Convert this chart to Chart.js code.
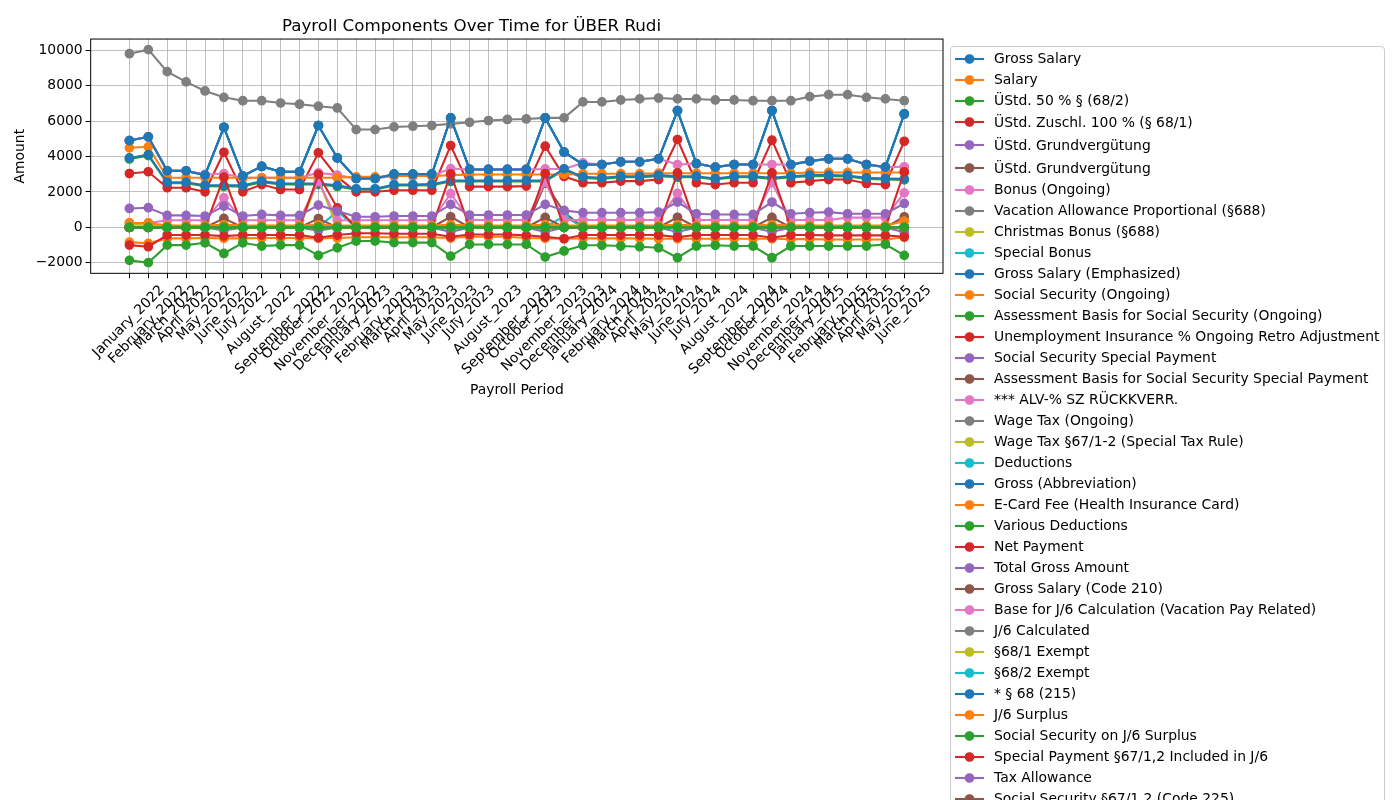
<!DOCTYPE html>
<html><head><meta charset="utf-8">
<script src="https://cdn.jsdelivr.net/npm/chart.js@4.4.1/dist/chart.umd.min.js"></script>
<style>
html,body{margin:0;padding:0;width:1400px;height:800px;overflow:hidden;background:#fff;font-family:'DejaVu Sans',sans-serif;}
#wrap{position:absolute;left:0;top:0;width:1400px;height:800px;}
#legend{position:absolute;left:950px;top:46px;width:435px;height:820px;border:1px solid #cccccc;border-radius:4px;background:rgba(255,255,255,0.8);box-sizing:border-box;padding-top:1px;}
.row{position:relative;font-size:13.9px;white-space:nowrap;color:#000;}
.row svg{position:absolute;left:4px;}
.row span{position:absolute;left:43px;top:0;}
</style></head>
<body>
<div id="wrap"><canvas id="c" width="1400" height="800"></canvas><div id="legend"></div></div>
<script>
const months = ['January_2022','February_2022','March_2022','April_2022','May_2022','June_2022','July_2022','August_2022','September_2022','October_2022','November_2022','December_2022','January_2023','February_2023','March_2023','April_2023','May_2023','June_2023','July_2023','August_2023','September_2023','October_2023','November_2023','December_2023','January_2024','February_2024','March_2024','April_2024','May_2024','June_2024','July_2024','August_2024','September_2024','October_2024','November_2024','December_2024','January_2025','February_2025','March_2025','April_2025','May_2025','June_2025'];

const grossSalary = [4900,5110,3190,3190,2950,5650,2900,3440,3140,3140,5750,3920,2760,2760,3000,3000,3000,6180,3270,3270,3270,3270,6180,4250,3550,3550,3700,3700,3870,6590,3600,3400,3550,3550,6590,3550,3740,3870,3870,3550,3400,6400];
const salary = [4490,4550,2800,2800,2800,2800,2800,2800,2800,2800,2800,2800,2850,2850,2900,2900,2900,2950,2990,2990,2990,2990,2990,2990,3030,3030,3030,3030,3060,3060,3060,3060,3060,3060,3060,3060,3100,3100,3100,3100,3100,3100];
const baseJ6 = [4900,5110,3190,3190,2990,3030,2800,2800,2800,2800,3080,2950,2760,2760,2900,2900,2900,3320,3270,3270,3270,3270,3300,3300,3640,3550,3700,3700,3870,3550,3600,3400,3550,3550,3550,3550,3740,3870,3870,3550,3400,3420];
const grossAbbrev = [3920,4110,2550,2550,2380,2370,2370,2610,2480,2480,2480,2370,2180,2180,2420,2420,2440,2650,2650,2650,2650,2650,2650,3300,2850,2800,2890,2890,2950,2890,2890,2760,2890,2890,2800,2890,2950,2950,2930,2800,2760,2740];
const assessmentBasis = [3860,4050,2490,2490,2320,2310,2310,2550,2420,2420,2420,2310,2120,2120,2360,2360,2380,2590,2590,2590,2590,2590,2590,3240,2790,2740,2830,2830,2890,2830,2830,2700,2830,2830,2740,2830,2890,2890,2870,2740,2700,2680];
const netPayment = [3040,3140,2240,2240,2010,4240,2010,2420,2140,2140,4210,2850,2010,2010,2100,2100,2100,4620,2300,2300,2300,2330,4580,2870,2520,2520,2610,2610,2700,4960,2520,2420,2520,2520,4920,2520,2610,2700,2700,2480,2420,4860];
const specialPaymentJ6 = [0,0,0,0,0,2840,0,0,0,0,2990,1100,0,0,0,0,0,3020,0,0,0,0,3040,0,0,0,0,0,0,3080,0,0,0,0,3080,0,0,0,0,0,0,3140];
const bonusOngoing = [250,250,400,400,400,1670,400,400,400,400,2600,400,400,400,400,400,400,1900,420,420,420,420,2550,420,420,420,420,420,420,1920,420,420,420,420,2520,420,420,420,550,550,550,1950];
const christmasBonus = [0,0,0,0,0,0,0,0,0,0,2700,0,0,0,0,0,0,0,0,0,0,0,0,0,0,0,0,0,0,0,0,0,0,0,0,0,0,0,0,0,0,0];
const specialBonus = [0,0,0,0,0,0,0,0,0,0,0,900,0,0,0,0,0,0,0,0,0,0,0,650,0,0,0,0,0,0,0,0,0,0,0,0,0,0,0,0,0,0];
const grossCode210 = [0,0,0,0,0,0,0,0,0,0,0,0,0,0,0,0,0,0,0,0,0,0,2500,850,0,0,0,0,0,0,0,0,0,0,0,0,0,0,0,0,0,0];
const ssSpecialPayment = [0,0,0,0,0,-170,0,0,0,0,-180,0,0,0,0,0,0,-250,0,0,0,0,-250,0,0,0,0,0,0,-260,0,0,0,0,-260,0,0,0,0,0,0,-270];
const ssCode225 = [0,0,0,0,0,510,0,0,0,0,500,0,0,0,0,0,0,600,0,0,0,0,560,0,0,0,0,0,0,570,0,0,0,0,560,0,0,0,0,0,0,600];
const taxAllowance = [1070,1110,680,680,640,1200,640,730,680,680,1260,920,600,600,640,640,640,1300,700,700,700,700,1300,960,830,830,830,830,860,1430,770,730,730,730,1430,770,830,860,770,770,770,1350];
const socialSecurity = [-830,-900,-620,-620,-600,-620,-620,-600,-600,-600,-620,-600,-560,-560,-560,-560,-560,-600,-530,-530,-530,-600,-620,-640,-620,-620,-620,-620,-640,-640,-640,-640,-640,-640,-640,-660,-660,-680,-680,-680,-680,-560];
const unemploymentRetro = [-1000,-1090,-430,-430,-430,-490,-430,-430,-430,-430,-580,-430,-330,-330,-360,-360,-360,-530,-400,-400,-400,-450,-530,-640,-430,-430,-430,-430,-430,-550,-430,-430,-430,-430,-580,-430,-430,-450,-450,-450,-450,-530];
const eCardFee = [250,250,100,100,100,150,100,100,100,100,150,100,100,100,100,100,100,150,100,100,100,100,150,100,100,100,100,100,100,150,100,100,100,100,150,100,100,100,100,100,100,350];
const exempt681 = [150,150,0,0,0,0,0,0,0,0,0,0,0,0,0,0,0,0,0,0,0,0,0,0,0,0,0,0,0,0,0,0,0,0,0,0,0,0,0,0,0,0];
const variousDeductions = [-1860,-1990,-1000,-1000,-870,-1470,-870,-1050,-1000,-1000,-1580,-1150,-770,-770,-860,-860,-860,-1620,-960,-960,-960,-960,-1670,-1330,-1010,-1010,-1050,-1090,-1150,-1710,-1050,-1010,-1050,-1050,-1710,-1050,-1050,-1050,-1050,-1050,-960,-1580];
const j6Calculated = [9800,10030,8790,8210,7700,7340,7150,7150,7020,6950,6840,6740,5520,5520,5670,5710,5750,5840,5930,6030,6090,6120,6180,6180,7080,7080,7190,7250,7300,7250,7250,7190,7190,7150,7150,7150,7380,7490,7490,7340,7250,7150];
const zeroValues = [0,0,0,0,0,0,0,0,0,0,0,0,0,0,0,0,0,0,0,0,0,0,0,0,0,0,0,0,0,0,0,0,0,0,0,0,0,0,0,0,0,0];
const yTicks = [-2000,0,2000,4000,6000,8000,10000];

const seriesNames = ['Gross Salary','Salary','ÜStd. 50 %  § (68/2)','ÜStd. Zuschl. 100 % (§ 68/1)','ÜStd. Grundvergütung','ÜStd. Grundvergütung','Bonus (Ongoing)','Vacation Allowance Proportional (§688)','Christmas Bonus (§688)','Special Bonus','Gross Salary (Emphasized)','Social Security (Ongoing)','Assessment Basis for Social Security (Ongoing)','Unemployment Insurance % Ongoing Retro Adjustment','Social Security Special Payment','Assessment Basis for Social Security Special Payment','*** ALV-% SZ RÜCKKVERR.','Wage Tax (Ongoing)','Wage Tax §67/1-2 (Special Tax Rule)','Deductions','Gross (Abbreviation)','E-Card Fee (Health Insurance Card)','Various Deductions','Net Payment','Total Gross Amount','Gross Salary (Code 210)','Base for J/6 Calculation (Vacation Pay Related)','J/6 Calculated','§68/1 Exempt','§68/2 Exempt','* § 68 (215)','J/6 Surplus','Social Security on J/6 Surplus','Special Payment §67/1,2 Included in J/6','Tax Allowance','Social Security §67/1,2 (Code 225)'];
const seriesValues = [grossSalary,salary,zeroValues,zeroValues,zeroValues,zeroValues,bonusOngoing,zeroValues,christmasBonus,specialBonus,grossSalary,socialSecurity,assessmentBasis,unemploymentRetro,ssSpecialPayment,zeroValues,zeroValues,zeroValues,zeroValues,zeroValues,grossAbbrev,eCardFee,variousDeductions,netPayment,zeroValues,grossCode210,baseJ6,j6Calculated,exempt681,zeroValues,grossSalary,zeroValues,zeroValues,specialPaymentJ6,taxAllowance,ssCode225];

const palette = ['#1f77b4','#ff7f0e','#2ca02c','#d62728','#9467bd','#8c564b','#e377c2','#7f7f7f','#bcbd22','#17becf'];
// stacking layer (higher = drawn on top)
const layers = [3,5,17,1,1,1,9,1,8,8,3,14,2,15,12,1,1,1,1,1,6,16,18,4,1,8,4.5,19,16,1,20,1,17,10,13,11];

const datasets = seriesNames.map((name,i)=>({
  label: name,
  data: seriesValues[i].map((v,j)=>({x:j,y:v})),
  borderColor: palette[i%10],
  backgroundColor: palette[i%10],
  pointBackgroundColor: palette[i%10],
  pointBorderColor: palette[i%10],
  borderWidth: 2.08,
  pointRadius: 4.17,
  pointBorderWidth: 1.39,
  tension: 0,
  order: 100 - layers[i]
}));

const FONT = '"DejaVu Sans"';
const framePlugin = {
  id: 'frameAndLabels',
  afterDraw(chart){
    const {ctx, chartArea:a, scales:{x}} = chart;
    ctx.save();
    ctx.strokeStyle = '#000'; ctx.lineWidth = 1;
    ctx.strokeRect(a.left, a.top, a.right - a.left, a.bottom - a.top);
    ctx.font = '13.9px ' + FONT;
    ctx.fillStyle = '#000'; ctx.textAlign = 'left'; ctx.textBaseline = 'top';
    const h = 16, top = a.bottom + 9.7;
    x.ticks.forEach(t => {
      const label = months[t.value];
      const w = ctx.measureText(label).width;
      const px = x.getPixelForValue(t.value);
      ctx.save();
      ctx.translate(px - 0.35355*(w+h), top + 0.70711*w);
      ctx.rotate(-Math.PI/4);
      ctx.fillText(label, 0, 0);
      ctx.restore();
    });
    ctx.restore();
  }
};

new Chart(document.getElementById('c'), {
  type: 'line',
  data: { datasets },
  options: {
    responsive: false,
    animation: false,
    events: [],
    layout: { padding: { left: 0, right: 457, top: 0, bottom: 401 } },
    plugins: {
      legend: { display: false },
      tooltip: { enabled: false },
      title: { display: true, text: 'Payroll Components Over Time for ÜBER Rudi', color: '#000',
        font: { family: FONT, size: 16.7, weight: 'normal' }, padding: { top: 17, bottom: 2 } }
    },
    scales: {
      x: {
        type: 'linear', min: -2.05, max: 43.05,
        afterBuildTicks: s => { s.ticks = months.map((m,i)=>({value:i})); },
        ticks: { display: false },
        grid: { color: '#b0b0b0', lineWidth: 0.8, tickColor: '#000', tickLength: 5, tickWidth: 1 },
        border: { display: false },
        title: { display: true, text: 'Payroll Period', color: '#000', font: { family: FONT, size: 13.9 }, padding: { top: 104, bottom: 0 } }
      },
      y: {
        min: -2591, max: 10629,
        afterBuildTicks: s => { s.ticks = yTicks.map(v=>({value:v})); },
        ticks: { color: '#000', font: { family: FONT, size: 13.9 }, padding: 3,
          callback: v => v < 0 ? '\u2212' + Math.abs(v) : String(v) },
        grid: { color: '#b0b0b0', lineWidth: 0.8, tickColor: '#000', tickLength: 5, tickWidth: 1 },
        border: { display: false },
        title: { display: true, text: 'Amount', color: '#000', font: { family: FONT, size: 13.9 }, padding: { top: 12, bottom: 4 } }
      }
    }
  },
  plugins: [framePlugin]
});

// legend (HTML, real text)
const legend = document.getElementById('legend');
seriesNames.forEach((name,i)=>{
  const hgt = i===3 ? 22 : i===4 ? 24 : i===5 ? 22 : 21;
  const row = document.createElement('div');
  row.className = 'row';
  row.style.height = hgt + 'px';
  row.style.lineHeight = hgt + 'px';
  const c = palette[i%10];
  row.innerHTML = '<svg width="29" height="12" style="top:' + (hgt/2-6) + 'px"><line x1="0" y1="6" x2="29" y2="6" stroke="' + c + '" stroke-width="2.08"/><circle cx="14.5" cy="6" r="4.17" fill="' + c + '" stroke="' + c + '" stroke-width="1.39"/></svg>';
  const sp = document.createElement('span');
  sp.textContent = name;
  row.appendChild(sp);
  legend.appendChild(row);
});
</script>
</body></html>
